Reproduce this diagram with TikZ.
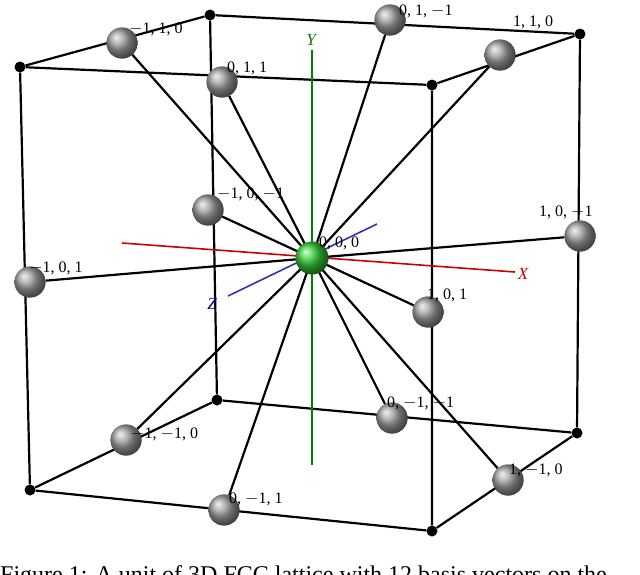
\documentclass[tikz,border=0pt]{standalone}
\usepackage{fontspec}
\setmainfont{Liberation Serif}
\begin{document}
\begin{tikzpicture}[x=1pt,y=-1pt,
  edge/.style={black,line width=2.2pt},
  ray/.style={black,line width=2.2pt},
  corner/.style={circle,fill=black,inner sep=0pt,minimum size=11pt},
  ball/.style={circle,ball color=gray!75,inner sep=0pt,minimum size=31pt},
  lab/.style={font=\fontsize{16}{16}\selectfont,inner sep=1pt}]
\clip (0,0) rectangle (640,574);
\useasboundingbox (0,0) rectangle (640,574);
% corners
\node[corner] (c1) at (20,67) {};
\node[corner] (c2) at (210,15) {};
\node[corner] (c3) at (580,34) {};
\node[corner] (c4) at (432,85) {};
\node[corner] (c5) at (30,490) {};
\node[corner] (c6) at (217,400) {};
\node[corner] (c7) at (577,433) {};
\node[corner] (c8) at (432,531) {};
\draw[edge] (c1)--(c2)--(c3)--(c4)--(c1);
\draw[edge] (c5)--(c6)--(c7)--(c8)--(c5);
\draw[edge] (c1)--(c5) (c2)--(c6) (c3)--(c7) (c4)--(c8);
% axes
\coordinate (yt) at (312,50); \coordinate (yb) at (312,465);
\coordinate (xl) at (122,243); \coordinate (xr) at (515,272);
\coordinate (zl) at (228,296); \coordinate (zr) at (377,224);
\coordinate (o) at (312,258);
% balls
\node[ball] (b1) at (122,43) {};
\node[ball] (b2) at (390,20) {};
\node[ball] (b3) at (500,55) {};
\node[ball] (b4) at (222,82) {};
\node[ball] (b5) at (208,210) {};
\node[ball] (b6) at (580,236) {};
\node[ball] (b7) at (30,282) {};
\node[ball] (b8) at (428,312) {};
\node[ball] (b9) at (392,418) {};
\node[ball] (b10) at (126,440) {};
\node[ball] (b11) at (508,480) {};
\node[ball] (b12) at (224,510) {};
\foreach \b in {b1,b2,b3,b4,b5,b6,b7,b8,b9,b10,b11,b12}
  \draw[ray] (o) -- (\b);
\draw[green!50!black,line width=1.6pt] (yt)--(yb);
\draw[red!80!black,line width=1.6pt] (xl)--(xr);
\draw[blue!60!black!80,line width=1.6pt] (zl)--(zr);
\foreach \b in {b1,b2,b3,b4,b5,b6,b7,b8,b9,b10,b11,b12}
  \node[ball] at (\b) {};
\node[circle,ball color=green!75!black!80!white,inner sep=0pt,minimum size=33pt] (g) at (o) {};
\node[lab,text=green!50!black,font=\itshape\fontsize{17}{17}\selectfont] at (311,40) {Y};
\node[lab,text=red!80!black,font=\itshape\fontsize{17}{17}\selectfont] at (523,274) {X};
\node[lab,text=blue!60!black,font=\itshape\fontsize{17}{17}\selectfont] at (212,304) {Z};
% labels
\node[lab,anchor=west] at (128,29) {$-$1, 1, 0};
\node[lab,anchor=west] at (398,11) {0, 1, $-$1};
\node[lab,anchor=west] at (512,22) {1, 1, 0};
\node[lab,anchor=west] at (226,68) {0, 1, 1};
\node[lab,anchor=west] at (216,194) {$-$1, 0, $-$1};
\node[lab,anchor=west] at (538,212) {1, 0, $-$1};
\node[lab,anchor=west] at (28,268) {$-$1, 0, 1};
\node[lab,anchor=west] at (318,243) {0, 0, 0};
\node[lab,anchor=west] at (426,295) {1, 0, 1};
\node[lab,anchor=west] at (386,403) {0, $-$1, $-$1};
\node[lab,anchor=west] at (130,434) {$-$1, $-$1, 0};
\node[lab,anchor=west] at (508,470) {1, $-$1, 0};
\node[lab,anchor=west] at (228,499) {0, $-$1, 1};
\node[anchor=base west,inner sep=0pt,font=\fontsize{24}{24}\selectfont] (cap) at (0,582)
  {\textsc{Figure 1:} A unit of 3D FCC lattice with 12 basis vectors on the};
\end{tikzpicture}
\end{document}
